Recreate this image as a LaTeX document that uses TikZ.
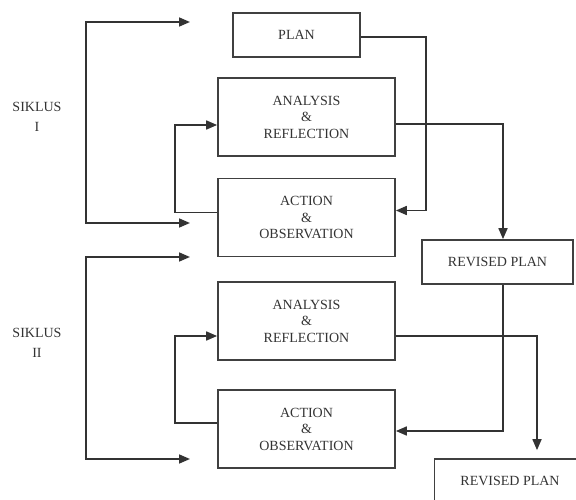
\documentclass[tikz,border=0pt]{standalone}
\usepackage{fontspec}
\setmainfont{Liberation Serif}
\usetikzlibrary{arrows.meta}
\begin{document}
\begin{tikzpicture}[x=1pt, y=-1pt, line join=miter, >={Triangle[length=11pt,width=9pt]}]
	\tikzset{box/.style={draw=black!75, line width=1.7pt, inner sep=0pt, align=center, text=black!80, font=\fontsize{14}{16.5}\selectfont}}
	\tikzset{wide/.style={box, minimum width=177pt, minimum height=78pt}}
	\tikzset{small/.style={box, minimum width=151pt, minimum height=44pt}}
	\tikzset{lbl/.style={align=center, text=black!80, font=\fontsize{14}{20}\selectfont}}
	\tikzset{arr/.style={draw=black!80, line width=1.7pt, ->}}
	\useasboundingbox (0,0) rectangle (576,500);
	\clip (0,0) rectangle (576,500);
	\node[box, minimum width=127pt, minimum height=44pt] (plan) at (296.5,35) {PLAN};
	\node[wide] (ar1) at (306.5,117) {ANALYSIS\\\&\\REFLECTION};
	\node[wide] (ao1) at (306.5,217.5) {ACTION\\\&\\OBSERVATION};
	\node[small] (rp1) at (497.5,262) {REVISED PLAN};
	\node[wide] (ar2) at (306.5,321) {ANALYSIS\\\&\\REFLECTION};
	\node[wide] (ao2) at (306.5,429) {ACTION\\\&\\OBSERVATION};
	\node[small] (rp2) at (510,481) {REVISED PLAN};
	\node[lbl] (s1) at (37,117) {SIKLUS\\I};
	\node[lbl] (s2) at (37,343) {SIKLUS\\II};
	\coordinate (s1t) at (190,22);
	\coordinate (s1b) at (190,223);
	\coordinate (s2t) at (190,257);
	\coordinate (s2b) at (190,459);
	\draw[arr,<->] (s1t) -- ++(-104,0) |- (s1b);
	\draw[arr,<->] (s2t) -- ++(-104,0) |- (s2b);
	\draw[arr] ([yshift=5pt]ao1.west) -- ++(-42,0) |- ([yshift=-8pt]ar1.west);
	\draw[arr] ([yshift=6pt]ao2.west) -- ++(-42,0) |- ([yshift=-15pt]ar2.west);
	\draw[arr] ([yshift=-2pt]plan.east) -- ++(65,0) |- ([yshift=7pt]ao1.east);
	\draw[arr] ([yshift=-7pt]ar1.east) -| ([xshift=5.5pt]rp1.north);
	\draw[arr] ([xshift=5.5pt]rp1.south) |- ([yshift=-2pt]ao2.east);
	\draw[arr, shorten >=8pt] ([yshift=-15pt]ar2.east) -| ([xshift=27pt]rp2.north);
\end{tikzpicture}
\end{document}
